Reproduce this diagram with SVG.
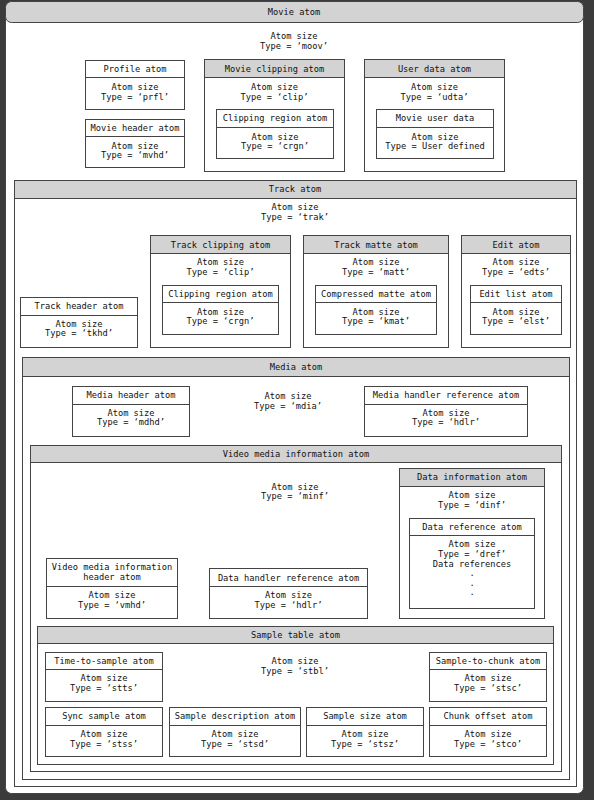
<svg xmlns="http://www.w3.org/2000/svg" width="594" height="800" viewBox="0 0 594 800">
<style>
.b{fill:#fff;stroke:#444;stroke-width:1}
.h{fill:#d3d3d3;stroke:#444;stroke-width:1}
.l{stroke:#444;stroke-width:1}
text{font-family:"DejaVu Sans Mono","Liberation Mono",monospace;font-size:8.7px;text-anchor:middle;fill:#111}
</style>
<rect width="594" height="800" fill="#3b3b3b"/>

<g id="movie-atom">
<rect class="b" x="5.5" y="10.5" width="578" height="783" rx="6"/>
<rect class="h" x="5.5" y="1.5" width="578" height="21" rx="6"/>
<text x="294" y="15">Movie atom</text>
<text x="294" y="39">Atom size</text>
<text x="294" y="49">Type = ‘moov’</text>
</g>

<g id="profile-atom">
<rect class="b" x="85.5" y="60.5" width="99" height="49"/>
<line class="l" x1="85.5" y1="77.5" x2="184.5" y2="77.5"/>
<text x="135" y="72">Profile atom</text>
<text x="135" y="90">Atom size</text>
<text x="135" y="100">Type = ‘prfl’</text>
</g>

<g id="movie-header-atom">
<rect class="b" x="85.5" y="119.5" width="99" height="48"/>
<line class="l" x1="85.5" y1="136.5" x2="184.5" y2="136.5"/>
<text x="135" y="131">Movie header atom</text>
<text x="135" y="149">Atom size</text>
<text x="135" y="158">Type = ‘mvhd’</text>
</g>

<g id="movie-clipping-atom">
<rect class="b" x="204.5" y="59.5" width="140" height="112"/>
<rect class="h" x="204.5" y="59.5" width="140" height="18"/>
<text x="274.5" y="71.5">Movie clipping atom</text>
<text x="274.5" y="90">Atom size</text>
<text x="274.5" y="100">Type = ‘clip’</text>
</g>
<g id="movie-clipping-region-atom">
<rect class="b" x="216.5" y="109.5" width="117" height="49"/>
<line class="l" x1="216.5" y1="127.5" x2="333.5" y2="127.5"/>
<text x="275" y="121">Clipping region atom</text>
<text x="275" y="140">Atom size</text>
<text x="275" y="149">Type = ‘crgn’</text>
</g>

<g id="user-data-atom">
<rect class="b" x="364.5" y="59.5" width="140" height="112"/>
<rect class="h" x="364.5" y="59.5" width="140" height="18"/>
<text x="434.5" y="71.5">User data atom</text>
<text x="434.5" y="90">Atom size</text>
<text x="434.5" y="100">Type = ‘udta’</text>
</g>
<g id="movie-user-data">
<rect class="b" x="376.5" y="109.5" width="117" height="49"/>
<line class="l" x1="376.5" y1="127.5" x2="493.5" y2="127.5"/>
<text x="435" y="121">Movie user data</text>
<text x="435" y="140">Atom size</text>
<text x="435" y="149">Type = User defined</text>
</g>

<g id="track-atom">
<rect class="b" x="14.5" y="180.5" width="562" height="606"/>
<rect class="h" x="14.5" y="180.5" width="562" height="18"/>
<text x="295" y="192">Track atom</text>
<text x="295" y="210">Atom size</text>
<text x="295" y="220">Type = ‘trak’</text>
</g>

<g id="track-clipping-atom">
<rect class="b" x="150.5" y="235.5" width="140" height="112"/>
<rect class="h" x="150.5" y="235.5" width="140" height="18"/>
<text x="220.5" y="247.5">Track clipping atom</text>
<text x="220.5" y="265">Atom size</text>
<text x="220.5" y="275">Type = ‘clip’</text>
</g>
<g id="track-clipping-region-atom">
<rect class="b" x="162.5" y="285.5" width="116" height="49"/>
<line class="l" x1="162.5" y1="302.5" x2="278.5" y2="302.5"/>
<text x="220.5" y="297">Clipping region atom</text>
<text x="220.5" y="315">Atom size</text>
<text x="220.5" y="324">Type = ‘crgn’</text>
</g>

<g id="track-matte-atom">
<rect class="b" x="303.5" y="235.5" width="145" height="112"/>
<rect class="h" x="303.5" y="235.5" width="145" height="18"/>
<text x="376" y="247.5">Track matte atom</text>
<text x="376" y="265">Atom size</text>
<text x="376" y="275">Type = ‘matt’</text>
</g>
<g id="compressed-matte-atom">
<rect class="b" x="315.5" y="285.5" width="121" height="49"/>
<line class="l" x1="315.5" y1="302.5" x2="436.5" y2="302.5"/>
<text x="376" y="297">Compressed matte atom</text>
<text x="376" y="315">Atom size</text>
<text x="376" y="324">Type = ‘kmat’</text>
</g>

<g id="edit-atom">
<rect class="b" x="461.5" y="235.5" width="109" height="112"/>
<rect class="h" x="461.5" y="235.5" width="109" height="18"/>
<text x="516" y="247.5">Edit atom</text>
<text x="516" y="265">Atom size</text>
<text x="516" y="275">Type = ‘edts’</text>
</g>
<g id="edit-list-atom">
<rect class="b" x="470.5" y="285.5" width="91" height="49"/>
<line class="l" x1="470.5" y1="302.5" x2="561.5" y2="302.5"/>
<text x="516" y="297">Edit list atom</text>
<text x="516" y="315">Atom size</text>
<text x="516" y="324">Type = ‘elst’</text>
</g>

<g id="track-header-atom">
<rect class="b" x="20.5" y="297.5" width="117" height="50"/>
<line class="l" x1="20.5" y1="315.5" x2="137.5" y2="315.5"/>
<text x="79" y="309">Track header atom</text>
<text x="79" y="327">Atom size</text>
<text x="79" y="336">Type = ‘tkhd’</text>
</g>

<g id="media-atom">
<rect class="b" x="22.5" y="357.5" width="547" height="422"/>
<rect class="h" x="22.5" y="357.5" width="547" height="19"/>
<text x="296" y="369.5">Media atom</text>
<text x="288" y="399">Atom size</text>
<text x="288" y="409">Type = ‘mdia’</text>
</g>

<g id="media-header-atom">
<rect class="b" x="72.5" y="386.5" width="117" height="50"/>
<line class="l" x1="72.5" y1="404.5" x2="189.5" y2="404.5"/>
<text x="131" y="398">Media header atom</text>
<text x="131" y="416">Atom size</text>
<text x="131" y="425">Type = ‘mdhd’</text>
</g>

<g id="media-handler-reference-atom">
<rect class="b" x="364.5" y="386.5" width="163" height="50"/>
<line class="l" x1="364.5" y1="404.5" x2="527.5" y2="404.5"/>
<text x="446" y="398">Media handler reference atom</text>
<text x="446" y="416">Atom size</text>
<text x="446" y="425">Type = ‘hdlr’</text>
</g>

<g id="video-media-information-atom">
<rect class="b" x="30.5" y="445.5" width="531" height="326"/>
<rect class="h" x="30.5" y="445.5" width="531" height="17"/>
<text x="296" y="457">Video media information atom</text>
<text x="295" y="490">Atom size</text>
<text x="295" y="499">Type = ‘minf’</text>
</g>

<g id="data-information-atom">
<rect class="b" x="399.5" y="468.5" width="145" height="150"/>
<rect class="h" x="399.5" y="468.5" width="145" height="18"/>
<text x="472" y="480">Data information atom</text>
<text x="472" y="498">Atom size</text>
<text x="472" y="508">Type = ‘dinf’</text>
</g>
<g id="data-reference-atom">
<rect class="b" x="409.5" y="518.5" width="125" height="90"/>
<line class="l" x1="409.5" y1="535.5" x2="534.5" y2="535.5"/>
<text x="472" y="530">Data reference atom</text>
<text x="472" y="547">Atom size</text>
<text x="472" y="557">Type = ‘dref’</text>
<text x="472" y="567">Data references</text>
<text x="472" y="576">.</text>
<text x="472" y="586">.</text>
<text x="472" y="595">.</text>
</g>

<g id="video-media-information-header-atom">
<rect class="b" x="46.5" y="558.5" width="131" height="60"/>
<line class="l" x1="46.5" y1="586.5" x2="177.5" y2="586.5"/>
<text x="112" y="570">Video media information</text>
<text x="112" y="580">header atom</text>
<text x="112" y="598">Atom size</text>
<text x="112" y="608">Type = ‘vmhd’</text>
</g>

<g id="data-handler-reference-atom">
<rect class="b" x="209.5" y="568.5" width="158" height="50"/>
<line class="l" x1="209.5" y1="586.5" x2="367.5" y2="586.5"/>
<text x="288.5" y="581">Data handler reference atom</text>
<text x="288.5" y="598">Atom size</text>
<text x="288.5" y="608">Type = ‘hdlr’</text>
</g>

<g id="sample-table-atom">
<rect class="b" x="37.5" y="626.5" width="516" height="138"/>
<rect class="h" x="37.5" y="626.5" width="516" height="17"/>
<text x="295.5" y="638">Sample table atom</text>
<text x="295" y="664">Atom size</text>
<text x="295" y="674">Type = ‘stbl’</text>
</g>

<g id="time-to-sample-atom">
<rect class="b" x="45.5" y="652.5" width="117" height="49"/>
<line class="l" x1="45.5" y1="669.5" x2="162.5" y2="669.5"/>
<text x="104" y="663.5">Time-to-sample atom</text>
<text x="104" y="681">Atom size</text>
<text x="104" y="691">Type = ‘stts’</text>
</g>

<g id="sample-to-chunk-atom">
<rect class="b" x="429.5" y="652.5" width="117" height="49"/>
<line class="l" x1="429.5" y1="669.5" x2="546.5" y2="669.5"/>
<text x="488" y="663.5">Sample-to-chunk atom</text>
<text x="488" y="681">Atom size</text>
<text x="488" y="691">Type = ‘stsc’</text>
</g>

<g id="sync-sample-atom">
<rect class="b" x="45.5" y="707.5" width="117" height="49"/>
<line class="l" x1="45.5" y1="725.5" x2="162.5" y2="725.5"/>
<text x="104" y="719">Sync sample atom</text>
<text x="104" y="737">Atom size</text>
<text x="104" y="747">Type = ‘stss’</text>
</g>

<g id="sample-description-atom">
<rect class="b" x="169.5" y="707.5" width="131" height="49"/>
<line class="l" x1="169.5" y1="725.5" x2="300.5" y2="725.5"/>
<text x="235" y="719">Sample description atom</text>
<text x="235" y="737">Atom size</text>
<text x="235" y="747">Type = ‘stsd’</text>
</g>

<g id="sample-size-atom">
<rect class="b" x="306.5" y="707.5" width="117" height="49"/>
<line class="l" x1="306.5" y1="725.5" x2="423.5" y2="725.5"/>
<text x="365" y="719">Sample size atom</text>
<text x="365" y="737">Atom size</text>
<text x="365" y="747">Type = ‘stsz’</text>
</g>

<g id="chunk-offset-atom">
<rect class="b" x="429.5" y="707.5" width="117" height="49"/>
<line class="l" x1="429.5" y1="725.5" x2="546.5" y2="725.5"/>
<text x="488" y="719">Chunk offset atom</text>
<text x="488" y="737">Atom size</text>
<text x="488" y="747">Type = ‘stco’</text>
</g>
</svg>
